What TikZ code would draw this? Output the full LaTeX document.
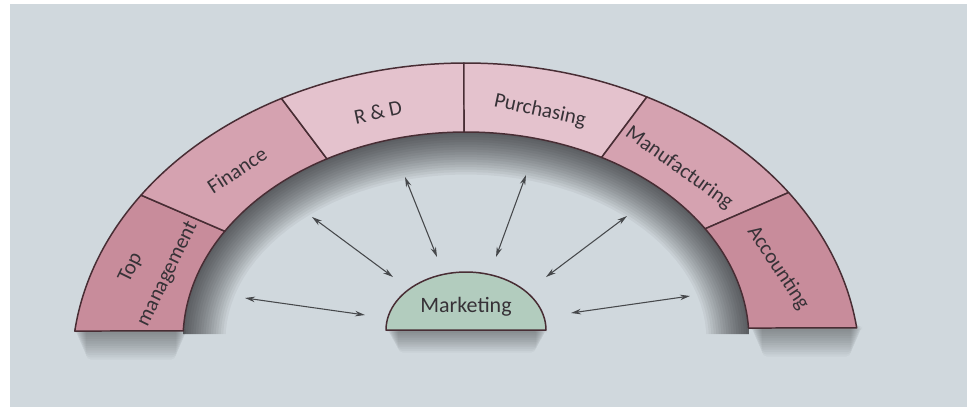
\documentclass[tikz,border=0pt]{standalone}
\usepackage{fontspec}
\setmainfont{Carlito}
\usetikzlibrary{arrows.meta}
\definecolor{bgc}{RGB}{208,216,221}
\definecolor{pinkA}{RGB}{200,140,155}
\definecolor{pinkB}{RGB}{213,162,176}
\definecolor{pinkC}{RGB}{228,194,205}
\definecolor{edgec}{RGB}{72,45,52}
\definecolor{txtc}{RGB}{55,50,55}
\definecolor{mktc}{RGB}{178,204,190}
\definecolor{arrc}{RGB}{70,72,75}
\newcommand{\archseg}[5]{\filldraw[#5] plot[domain=#1:#2,samples=30] ({466+394*cos(\x)},{367-304*sin(\x)}) -- plot[domain=#3:#4,samples=30] ({466+283*cos(\x)},{340-208*sin(\x)}) -- cycle;}
\begin{document}
\begin{tikzpicture}[x=0.02cm,y=-0.02cm,
  archpart/.style={draw=edgec,line width=0.85pt,line join=round},
  lbl/.style={text=txtc,font=\fontsize{12}{15}\selectfont,inner sep=0pt},
  twoway/.style={draw=arrc,line width=0.6pt,{Stealth[length=0.2cm,width=0.11cm]}-{Stealth[length=0.2cm,width=0.11cm]}}]
\useasboundingbox (0,0) rectangle (967,407);
\fill[bgc] (0,0) rectangle (967,407);
\fill[white] (0,0) rectangle (10,407);
\fill[white] (0,0) rectangle (967,4);
% inner shadow of the arch
\begin{scope}
\clip plot[domain=0:180,samples=60] ({466+283*cos(\x)},{334-202*sin(\x)}) -- cycle;
\foreach \w in {1.7,1.6,...,0.1}
  \draw[black,opacity=0.042,line width=\w cm] plot[domain=-10:190,samples=60] ({466+283*cos(\x)},{340-208*sin(\x)});
\end{scope}
% shadows below the arch ends and the dome
\foreach \k in {1,...,12}{
  \fill[black,opacity=0.03,rounded corners=0.1cm] (74+\k,328) rectangle (188-\k,332+2.3*\k);
  \fill[black,opacity=0.03,rounded corners=0.1cm] (750+\k,325) rectangle (863-\k,329+2.3*\k);
  \fill[black,opacity=0.03,rounded corners=0.1cm] (386+\k,328) rectangle (548-\k,331+1.8*\k);
}
% arch segments
\archseg{173.2}{145.57}{148.47}{177.5}{archpart,fill=pinkA}
\archseg{145.57}{117.93}{119.43}{148.47}{archpart,fill=pinkB}
\archseg{117.93}{90.3}{90.4}{119.43}{archpart,fill=pinkC}
\archseg{90.3}{62.67}{61.37}{90.4}{archpart,fill=pinkC}
\archseg{62.67}{35.03}{32.33}{61.37}{archpart,fill=pinkB}
\archseg{35.03}{7.4}{3.3}{32.33}{archpart,fill=pinkA}
% marketing dome
\filldraw[archpart,fill=mktc] plot[domain=180:0,samples=50] ({466+80*cos(\x)},{330-58*sin(\x)}) -- cycle;
% labels
\node[lbl,rotate=64] (tm) at (131,268) {Top};
\node[lbl,rotate=64] (tm2) at (168,274) {management};
\node[lbl,rotate=33] (fin) at (237,170) {Finance};
\node[lbl,rotate=12] (rd) at (378,112) {R \& D};
\node[lbl,rotate=-12] (pur) at (540,111) {Purchasing};
\node[lbl,rotate=-35.5] (man) at (679,168) {Manufacturing};
\node[lbl,rotate=-56.5] (acc) at (778,268) {Accounting};
\node[lbl,font=\fontsize{12.5}{15}\selectfont] (mkt) at (466,307) {Marketing};
% arrow ends
\coordinate (a1) at (245,298); \coordinate (b1) at (365,315);
\coordinate (a2) at (312,217); \coordinate (b2) at (393,277);
\coordinate (a3) at (405,177); \coordinate (b3) at (437,257);
\coordinate (a4) at (526,175); \coordinate (b4) at (496,257);
\coordinate (a5) at (627,216); \coordinate (b5) at (546,277);
\coordinate (a6) at (690,296); \coordinate (b6) at (571,313);
\foreach \i in {1,...,6} \draw[twoway] (a\i) -- (b\i);
\end{tikzpicture}
\end{document}
